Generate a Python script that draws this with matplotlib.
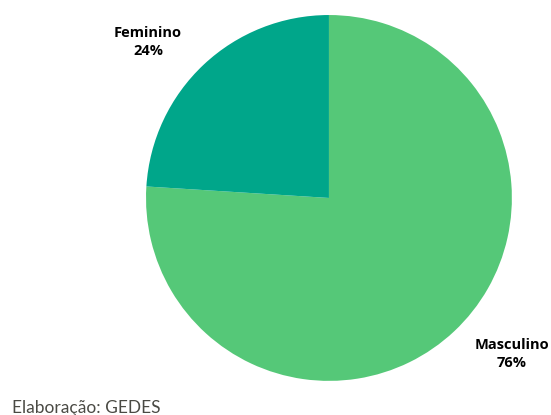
import matplotlib
matplotlib.use("Agg")
import matplotlib.pyplot as plt

categorias = ["Masculino", "Feminino"]
valores = [76, 24]
cores = ["#55c878", "#00a68a"]

fig = plt.figure(figsize=(5.51, 4.15), dpi=100)
ax = fig.add_axes([0.265, 0.082, 0.664, 0.882])
ax.pie(valores, colors=cores, startangle=90, counterclock=False,
       wedgeprops=dict(linewidth=0))
ax.set_xlim(-1, 1)
ax.set_ylim(-1, 1)
ax.set_aspect("equal")

# posicoes dos rotulos (fracao da figura)
pos = {"Masculino": (512 / 551, 1 - 354 / 415), "Feminino": (148 / 551, 1 - 42 / 415)}
for cat, v in zip(categorias, valores):
    x, y = pos[cat]
    fig.text(x, y, f"{cat}\n{v}%", ha="center", va="center", fontsize=10.5,
             fontweight="bold", family="Open Sans", linespacing=1.45)

fig.text(12 / 551, 1 - 408 / 415, "Elaboração: GEDES", ha="left", va="center",
         fontsize=12.5, family="Lato", color="#4a4a44")

fig.savefig("out.png", dpi=100)
